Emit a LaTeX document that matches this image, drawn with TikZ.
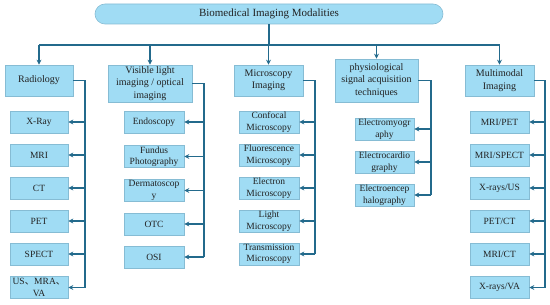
\documentclass[tikz,border=0pt]{standalone}
\usepackage{fontspec}
\setmainfont{Liberation Serif}
\newfontfamily\cjk{Noto Sans CJK SC}
\usetikzlibrary{arrows.meta}
\definecolor{boxfill}{HTML}{A0DCF4}
\definecolor{boxline}{HTML}{86BCD4}
\definecolor{conncol}{HTML}{236A8C}
\definecolor{txtcol}{HTML}{222222}
\tikzset{
  base/.style={draw=boxline, fill=boxfill, line width=0.6pt, text=txtcol, align=center, inner sep=1pt},
  titlebox/.style={base, rounded corners=10pt, minimum width=348pt, minimum height=20pt, font=\fontsize{11}{13}\selectfont},
  catbox/.style={base, minimum height=31pt, font=\fontsize{10}{12.5}\selectfont},
  kidbox/.style={base, minimum height=22pt, font=\fontsize{9.5}{11.5}\selectfont},
  conn/.style={draw=conncol, line width=1.1pt},
  arr/.style={conn, -{Stealth[length=5pt,width=5pt]}}
}
\begin{document}
\begin{tikzpicture}[x=1pt,y=-1pt]
\useasboundingbox (0,0) rectangle (550,305);
% title
\node[titlebox] (title) at (269,14) {Biomedical Imaging Modalities};
% categories
\node[catbox, minimum width=68pt] (rad) at (39,80.5) {Radiology};
\node[catbox, minimum width=84pt, minimum height=37pt] (vis) at (150,83.5) {Visible light\\imaging / optical\\imaging};
\node[catbox, minimum width=69pt] (mic) at (268.5,80.5) {Microscopy\\Imaging};
\node[catbox, minimum width=83pt, minimum height=43pt] (phy) at (376.5,80.5) {physiological\\signal acquisition\\techniques};
\node[catbox, minimum width=69pt] (mul) at (499.5,80.5) {Multimodal\\Imaging};
% top bus
\coordinate (bus) at (269,45);
\draw[conn] (title.south) -- (bus);
\draw[conn] (rad.north |- bus) -- (mul.north |- bus);
\foreach \n in {rad,vis,mic,phy,mul}{
  \draw[arr] (\n.north |- bus) -- (\n.north);
}
% Radiology children
\begin{scope}[every node/.style={kidbox, minimum width=58pt}]
\node (r1) at (39,122) {X-Ray};
\node (r2) at (39,155) {MRI};
\node (r3) at (39,188) {CT};
\node (r4) at (39,221) {PET};
\node (r5) at (39,254) {SPECT};
\node (r6) at (39,287.5) {US{\cjk 、}MRA{\cjk 、}\\VA};
\end{scope}
\coordinate (radbus) at (85,287.5);
\draw[conn] (rad.east) -| (radbus);
\foreach \c in {r1,r2,r3,r4,r5,r6}{\draw[arr] (radbus |- \c.east) -- (\c.east);}
% Visible children
\begin{scope}[every node/.style={kidbox, minimum width=60pt}]
\node (v1) at (154,122) {Endoscopy};
\node (v2) at (154,156.5) {Fundus\\Photography};
\node (v3) at (154,190.5) {Dermatoscop\\y};
\node (v4) at (154,224) {OTC};
\node (v5) at (154,257) {OSI};
\end{scope}
\coordinate (visbus) at (204,257);
\draw[conn] (vis.east) -| (visbus);
\foreach \c in {v1,v2,v3,v4,v5}{\draw[arr] (visbus |- \c.east) -- (\c.east);}
% Microscopy children
\begin{scope}[every node/.style={kidbox, minimum width=60pt}]
\node (m1) at (269,122) {Confocal\\Microscopy};
\node (m2) at (269,155) {Fluorescence\\Microscopy};
\node (m3) at (269,188) {Electron\\Microscopy};
\node (m4) at (269,221) {Light\\Microscopy};
\node (m5) at (269,254) {Transmission\\Microscopy};
\end{scope}
\coordinate (micbus) at (315,254);
\draw[conn] (mic.east) -| (micbus);
\foreach \c in {m1,m2,m3,m4,m5}{\draw[arr] (micbus |- \c.east) -- (\c.east);}
% Physiological children
\begin{scope}[every node/.style={kidbox, minimum width=59pt}]
\node (p1) at (384.5,129) {Electromyogr\\aphy};
\node (p2) at (384.5,162) {Electrocardio\\graphy};
\node (p3) at (384.5,195) {Electroencep\\halography};
\end{scope}
\coordinate (phybus) at (431,195);
\draw[conn] (phy.east |- mic.east) -| (phybus);
\foreach \c in {p1,p2,p3}{\draw[arr] (phybus |- \c.east) -- (\c.east);}
% Multimodal children
\begin{scope}[every node/.style={kidbox, minimum width=59pt}]
\node (u1) at (499.5,122) {MRI/PET};
\node (u2) at (499.5,155) {MRI/SPECT};
\node (u3) at (499.5,188) {X-rays/US};
\node (u4) at (499.5,221) {PET/CT};
\node (u5) at (499.5,254) {MRI/CT};
\node (u6) at (499.5,287.5) {X-rays/VA};
\end{scope}
\coordinate (mulbus) at (545,287.5);
\draw[conn] (mul.east) -| (mulbus);
\foreach \c in {u1,u2,u3,u4,u5,u6}{\draw[arr] (mulbus |- \c.east) -- (\c.east);}
\end{tikzpicture}
\end{document}
